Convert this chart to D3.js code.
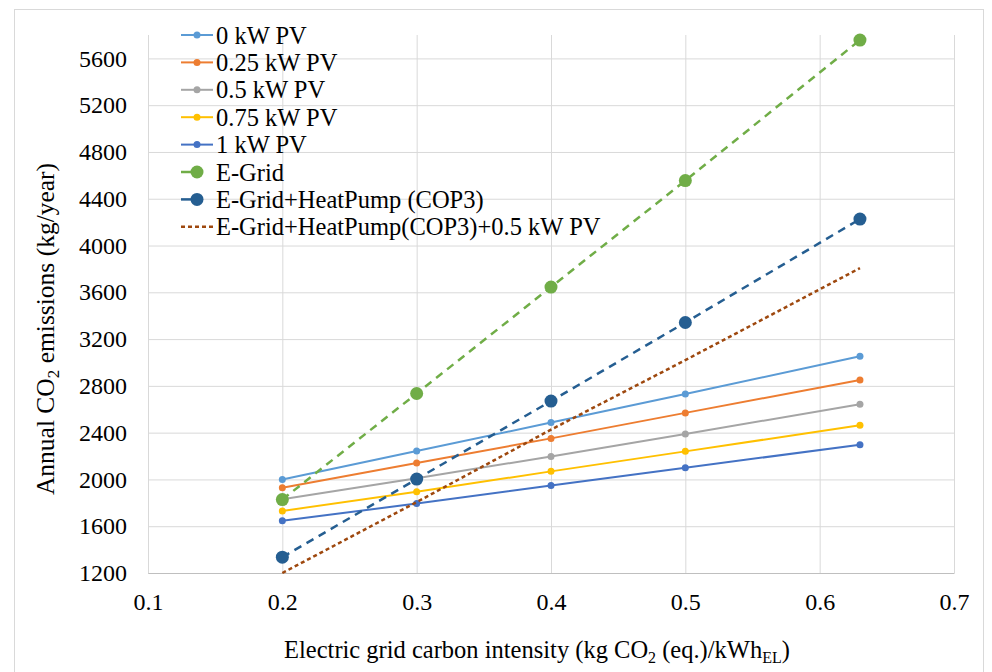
<!DOCTYPE html>
<html>
<head>
<meta charset="utf-8">
<script src="https://cdn.jsdelivr.net/npm/d3@7"></script>
<style>
body { margin: 0; background: #fff; }
</style>
</head>
<body>
<div id="chart"></div>
<script>
var w = 992;
var h = 672;
var margin = {top: 35, right: 38, bottom: 99, left: 148};
var font = "Liberation Serif";
var fs = 24.5;

// x values: electric grid carbon intensity
var gridIntensity = [0.2, 0.3, 0.4, 0.5, 0.63];

// annual CO2 emissions (kg/year)
var pv0 = [2000, 2243, 2486, 2731, 3053];
var pv025 = [1929, 2140, 2351, 2569, 2850];
var pv05 = [1830, 2010, 2197, 2389, 2643];
var pv075 = [1731, 1894, 2069, 2240, 2463];
var pv1 = [1646, 1794, 1949, 2100, 2297];
var eGrid = [1828, 2735, 3645, 4555, 5757];
var eGridHP = [1335, 2003, 2670, 3342, 4226];
var eGridHPpv = [1200, 1806, 2426, 3020, 3807];

var seriesNames = ["0 kW PV", "0.25 kW PV", "0.5 kW PV", "0.75 kW PV", "1 kW PV",
  "E-Grid", "E-Grid+HeatPump (COP3)", "E-Grid+HeatPump(COP3)+0.5 kW PV"];
var seriesValues = [pv0, pv025, pv05, pv075, pv1, eGrid, eGridHP, eGridHPpv];
var seriesColors = ["#5B9BD5", "#ED7D31", "#A5A5A5", "#FFC000", "#4472C4", "#70AD47", "#255E91", "#9E480E"];

var xTicks = [0.1, 0.2, 0.3, 0.4, 0.5, 0.6, 0.7];
var yTicks = [1200, 1600, 2000, 2400, 2800, 3200, 3600, 4000, 4400, 4800, 5200, 5600];

function styleFor(i) {
  // small dots + solid line, big dots + dash, or short dash no markers
  if (i < 5) return {dash: null, r: 3.5, width: 2};
  if (i < 7) return {dash: "8,6", r: 6.5, width: 2.5};
  return {dash: "4,3", r: 0, width: 2.5};
}

var series = seriesNames.map(function(name, i) {
  return {
    name: name,
    color: seriesColors[i],
    style: styleFor(i),
    points: gridIntensity.map(function(x, j) { return {x: x, y: seriesValues[i][j]}; })
  };
});

var svg = d3.select("#chart").append("svg")
  .attr("width", w)
  .attr("height", h)
  .attr("font-family", font);

// chart frame
svg.append("rect")
  .attr("x", 14.5).attr("y", 9.5)
  .attr("width", 969).attr("height", 680)
  .attr("fill", "none")
  .attr("stroke", "#d9d9d9");

var pw = w - margin.left - margin.right;
var ph = h - margin.top - margin.bottom;

var x = d3.scaleLinear().domain([0.1, 0.7]).range([0, pw]);
var y = d3.scaleLinear().domain([1200, 5800]).range([ph, 0]);

var g = svg.append("g").attr("transform", "translate(" + margin.left + "," + margin.top + ")");

// gridlines
g.append("g")
  .attr("class", "grid")
  .call(d3.axisLeft(y).tickValues(yTicks).tickSize(-pw).tickFormat(""))
  .call(function(s) { s.select(".domain").remove(); });
g.append("g")
  .attr("class", "grid")
  .call(d3.axisBottom(x).tickValues(xTicks).tickSize(ph).tickFormat(""))
  .call(function(s) { s.select(".domain").remove(); });
g.selectAll(".grid line").attr("stroke", "#d9d9d9").attr("stroke-width", 1);

// axes
var yAxis = g.append("g")
  .call(d3.axisLeft(y).tickValues(yTicks).tickSize(0).tickPadding(21).tickFormat(d3.format("d")));
yAxis.select(".domain").attr("stroke", "#d9d9d9");

var xAxis = g.append("g")
  .attr("transform", "translate(0," + ph + ")")
  .call(d3.axisBottom(x).tickValues(xTicks).tickSize(0).tickPadding(20).tickFormat(d3.format(".1f")));
xAxis.select(".domain").attr("stroke", "#bfbfbf");

yAxis.attr("font-family", font).attr("font-size", 24);
xAxis.attr("font-family", font).attr("font-size", 24);
g.selectAll(".tick text").attr("fill", "#000");

// lines and markers
var line = d3.line()
  .x(function(d) { return x(d.x); })
  .y(function(d) { return y(d.y); });

var sg = g.selectAll(".series")
  .data(series)
  .enter()
  .append("g")
  .attr("class", "series");

sg.append("path")
  .attr("d", function(d) { return line(d.points); })
  .attr("fill", "none")
  .attr("stroke", function(d) { return d.color; })
  .attr("stroke-width", function(d) { return d.style.width; })
  .attr("stroke-dasharray", function(d) { return d.style.dash; });

sg.selectAll("circle")
  .data(function(d) { return d.style.r > 0 ? d.points.map(function(p) { return {p: p, s: d}; }) : []; })
  .enter()
  .append("circle")
  .attr("cx", function(d) { return x(d.p.x); })
  .attr("cy", function(d) { return y(d.p.y); })
  .attr("r", function(d) { return d.s.style.r; })
  .attr("fill", function(d) { return d.s.color; });

// legend
var legend = svg.append("g").attr("transform", "translate(181,35)");
var li = legend.selectAll(".item")
  .data(series)
  .enter()
  .append("g")
  .attr("transform", function(d, i) { return "translate(0," + (i * 27.4) + ")"; });

li.append("line")
  .attr("x1", 0)
  .attr("x2", function(d, i) { return i >= 5 && i < 7 ? 12 : 32; })
  .attr("stroke", function(d) { return d.color; })
  .attr("stroke-width", function(d) { return d.style.width; })
  .attr("stroke-dasharray", function(d, i) { return i === 7 ? "4,3" : null; });
li.filter(function(d) { return d.style.r > 0; })
  .append("circle")
  .attr("cx", 16)
  .attr("r", function(d) { return d.style.r; })
  .attr("fill", function(d) { return d.color; });
li.append("text")
  .attr("x", 35)
  .attr("dy", "0.35em")
  .attr("font-size", fs)
  .text(function(d) { return d.name; });

// axis titles
var yt = svg.append("text")
  .attr("transform", "translate(54,329) rotate(-90)")
  .attr("text-anchor", "middle")
  .attr("font-size", 25.5);
yt.append("tspan").text("Annual CO");
yt.append("tspan").attr("font-size", 17).attr("dy", 5).text("2");
yt.append("tspan").attr("dy", -5).text(" emissions (kg/year)");

var xt = svg.append("text")
  .attr("x", 537)
  .attr("y", 658)
  .attr("text-anchor", "middle")
  .attr("font-size", fs);
xt.append("tspan").text("Electric grid carbon intensity (kg CO");
xt.append("tspan").attr("font-size", 16).attr("dy", 5).text("2");
xt.append("tspan").attr("dy", -5).text(" (eq.)/kWh");
xt.append("tspan").attr("font-size", 16).attr("dy", 5).text("EL");
xt.append("tspan").attr("dy", -5).text(")");
</script>
</body>
</html>
